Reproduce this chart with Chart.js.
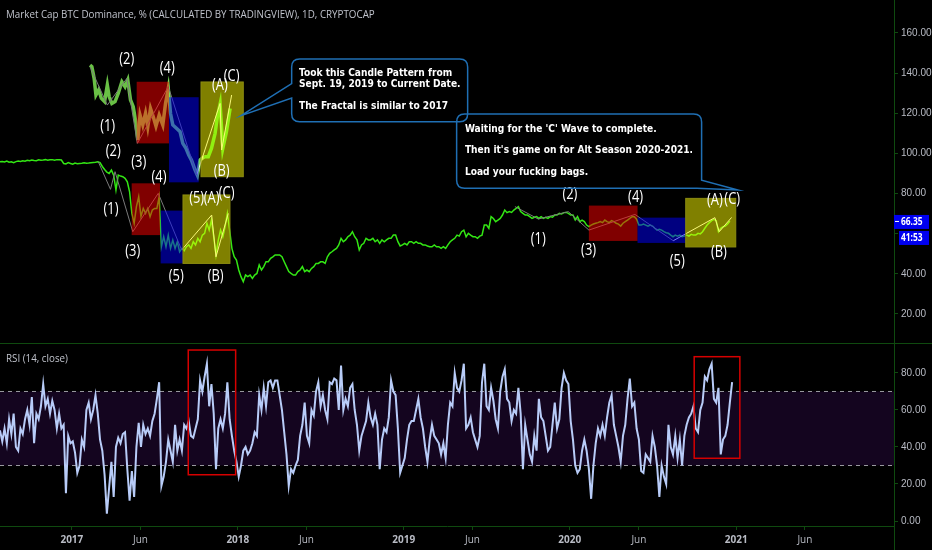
<!DOCTYPE html>
<html><head><meta charset="utf-8">
<style>html,body{margin:0;padding:0;background:#000;overflow:hidden}canvas{display:block}</style>
<script src="https://cdn.jsdelivr.net/npm/chart.js@4"></script>
</head><body><canvas id="c" width="932" height="550"></canvas>
<script>
// x axis unit: days from the left edge of the chart
const xTickDays=[158,309,523,674,888,1039,1253,1405,1619,1770];
const xTickLabels=['2017','Jun','2018','Jun','2019','Jun','2020','Jun','2021','Jun'];
const priceTicks=[160,140,120,100,80,60,40,20];
const rsiTicks=[80,60,40,20,0];
const sampleDays=5;
const mainValues=[95.9,96,95.7,96.2,95.6,95.8,95.4,95.9,96.2,96,96.3,96.1,96.6,96.4,96.7,96.5,96.4,96.8,96.6,96.7,96.9,96.6,96.8,96.9,96.6,96.9,96.8,96.7,
95,94.8,95.4,95,94.6,95.2,94.9,95,95.1,95.3,95.1,95.2,95.4,95.5,95.6,95.8,
95.4,93.5,92,90.7,90,91.7,89.2,81.8,89.2,88.7,88.4,87.6,85.9,80.9,70.1,65.2,73.5,78.4,68.5,72.6,70.1,72.6,68.5,71.8,72.6,72.6,78.4,
53.5,58.5,53.5,59.3,52.7,56.8,52.7,56,51,52.7,51.5,53.5,54.4,52.7,56,54.4,57.7,56,59.3,60.2,65.2,61.8,66.8,58.5,49.4,56.8,61.8,58.5,63.5,70.1,
61.8,52.7,48.5,46.9,41.9,38.6,36.1,39.4,38.6,39.4,37.7,39.4,40.2,44.4,41.9,43.6,46,46,47.7,48.5,49.4,49.4,49.4,48.5,46,43.6,41.1,40.2,39.4,39.4,41.1,41.9,43.6,41.1,41.9,41.1,42.7,43.6,45.2,45.2,46,46,45.2,48.5,50.2,51,51.9,52.7,54.4,57.7,56,56.9,58.5,59.3,61,58.5,56.9,51.9,54.4,55.2,57.7,56.9,56.9,57.7,56,56.9,55.2,56.9,56,56.9,57.7,57.7,59.3,59.3,56,53.9,54.4,55.2,54.4,56,56,55.2,56,55.2,55.2,54.4,54.4,53.9,53.5,53.5,54.4,53.5,53.5,52.7,53.5,52.7,54.4,56,56.9,57.7,59.3,58.8,61,61.8,58.5,60.2,59.3,58.5,58.5,57.7,58.8,
59.3,64.3,64.3,62.7,68.5,67.6,66,66.8,67.6,69.3,71.8,70.5,71,70.6,71.8,72.6,73.5,71,70.1,69.3,69.3,68.5,67.6,68.2,68.5,67.6,68.5,67.6,68.2,67.6,68.5,68.2,69.3,69.3,70.1,69.8,70.5,70.6,70.1,69.3,69.3,66.8,68.5,66,66.8,66,64.3,63.5,64.3,64.8,65.2,65.5,66,65.5,66.8,66,65.5,66.5,66,65.2,64.8,63.8,65.2,66,66.8,67.6,68.5,68.5,67.2,64.3,64.3,64.8,64.3,63.8,64.3,63.8,62.7,61.8,62.2,61.8,61,60.5,60.2,59.3,58.5,59.3,58.8,59.3,58.5,58.8,59.3,58.8,59.7,59.3,59.3,60.2,59.9,61,62.7,64.3,65.5,66.5,67.1,66.5,61,62.7,63.5,63.8,64.8,66.35];
const rsiValues=[49,43,50,42,55,47,58,40,38,50,47,55,60,52,67,42,58,55,62,74,62,66,58,65,60,50,58,50,52,15,46,42,43,37,26,30,44,40,60,64,55,60,68,58,44,38,25,4,18,32,13,40,45,42,47,48,28,11,27,13,40,53,40,52,47,50,46,54,58,66,75,19,24,32,44,38,32,52,38,44,38,52,50,54,46,45,50,55,76,70,78,85,62,74,58,28,50,55,50,58,75,55,46,38,32,24,30,38,40,36,38,42,48,46,68,60,72,62,75,76,72,76,76,68,60,48,36,19,28,26,30,33,46,52,64,46,42,60,57,70,75,62,68,60,55,75,74,77,76,60,84,60,66,62,72,74,60,52,38,46,50,54,64,56,52,58,52,28,44,50,48,56,76,70,68,50,26,30,34,44,52,54,54,60,66,56,50,40,32,44,52,46,44,42,36,42,34,52,64,62,80,72,70,76,85,50,52,56,48,44,40,46,
75,85,62,60,72,65,55,50,70,78,82,66,64,54,60,58,72,58,28,52,44,36,32,46,38,66,56,54,46,38,40,52,64,50,55,72,80,76,74,54,44,30,26,28,38,44,38,28,12,30,42,50,46,52,46,56,64,68,52,46,40,32,46,52,66,77,62,64,50,44,27,26,36,34,32,46,40,30,13,30,24,20,52,40,36,46,34,44,30,46,52,56,58,62,50,48,60,64,78,76,82,85,66,64,72,36,44,46,52,64,75];
const insetDays=[198,202,207,211,217,223,230,236,240,246,253,260,268,275,281,287,293,299,303,308,314,320,325,331,337,343,350,358,364,370,375,380,388,396,402,409,415,421,429,434,440,449,458,465,473,478,484,490,498,506];
const insetValues=[144,143.2,137.4,129.1,131.6,127.4,125.8,134.1,128.3,124.9,125.8,129.9,135.7,133.2,136.6,126.6,123.3,115,106.7,119.1,114.2,120,113.3,122.4,118.3,113.6,119.1,114.2,124.9,132.4,119.9,114.2,112.5,110.8,105,102.5,99.2,96.7,91.7,89.2,96.7,98.4,98.4,102.5,110,118.3,124.6,102.5,110.8,122.4];
const wave1GrayDays=[198,236,279,302,370,432.5], wave1GrayValues=[143.2,124.1,137.4,105,133.3,89.2];
const wave1WhiteDays=[432.5,484,487.4,509.4], wave1WhiteValues=[89.2,124.9,101.7,129.1];
const wave2GrayDays=[216,243,253,292,348,399.5], wave2GrayValues=[95.9,82.1,90.9,61,80.1,51.9];
const wave2WhiteDays=[399.5,465.5,475,502], wave2WhiteValues=[51.9,69.3,48.5,70.1];
const wave3GrayDays=[1132.4,1183.7,1249.7,1295.1,1396.3,1480.5], wave3GrayValues=[73.5,67.3,71,61.8,69.6,56.5];
const wave3WhiteDays=[1480.5,1572.1,1581.7,1608.8], wave3WhiteValues=[56.5,68,61,68.1];
const boxColors=['red','blue','yellow','red','blue','yellow','red','blue','yellow'];
const boxStart=[300.6,371.6,442,289.6,353.3,402.4,1295,1402,1508];
const boxEnd=[371.6,436.9,535,351.8,402.4,505.7,1402,1508,1618];
const boxTop=[135.7,128,135.6,85.1,71.5,79.3,74,68,77.6];
const boxBottom=[105,85.6,88.4,59.3,45.2,45.2,56.4,55.4,53.4];
const waveLabels=['(2)','(4)','(1)','(A)','(C)','(B)','(2)','(3)','(4)','(1)','(3)','(5)','(A)','(C)','(5)','(B)','(2)','(4)','(A)','(C)','(1)','(3)','(B)','(5)'];
const waveLabelDays=[278.6,367.9,236.8,483.7,509.5,487.5,249.1,305,349.6,244,291.8,432.5,465.5,498.5,387.7,474.3,1253.3,1397.8,1572.1,1610.2,1183.6,1294.4,1581,1489.2];
const waveLabelValues=[146.9,142.4,113.7,134.1,138.6,91.4,101.2,95.4,88.4,72.3,51.5,77.6,77.9,80.1,38.6,38.6,79.8,78.4,76.8,77.1,57.2,51.9,51,46.5];
const note1Lines=['Took this Candle Pattern from','Sept. 19, 2019 to Current Date.','The Fractal is similar to 2017'];
const note1Values=[139.9,134.4,123.6];
const note2Lines=["Waiting for the 'C' Wave to complete.","Then it's game on for Alt Season 2020-2021.",'Load your fucking bags.'];
const note2Values=[112.2,101.4,90.4];
const titleText='Market Cap BTC Dominance, % (CALCULATED BY TRADINGVIEW), 1D, CRYPTOCAP';
const rsiTitle='RSI (14, close)';
const lastPrice=66.35, countdown='41:53';
const rsiBoxStart=[414,1526.6], rsiBoxEnd=[518.2,1627], rsiBoxTop=[92.4,88.8], rsiBoxBottom=[25,33.9];
const xMax=1966, priceMin=5.54, priceMax=176.44, rsiMin=-2.7, rsiMax=96.2;

const SANS='"Open Sans",sans-serif';
const pts=(xs,ys)=>xs.map((x,i)=>({x,y:ys[i]}));
const sampled=v=>v.map((y,i)=>({x:i*sampleDays,y}));
const thin=(xs,ys,color)=>({data:pts(xs,ys),borderColor:color,borderWidth:1,yAxisID:'y',xAxisID:'x',pointRadius:0,tension:0,order:1});
const GREEN='#0f4a0f';
const fillBox={red:'rgba(255,0,0,.5)',blue:'rgba(0,0,255,.5)',yellow:'rgba(255,255,0,.5)'};
const squeezed=(ctx,text,x,y,sx)=>{ctx.save();ctx.translate(x,y);ctx.scale(sx,1);ctx.fillText(text,0,0);ctx.restore();};

const drawings={id:'drawings',
 afterDatasetsDraw(ch){
  const {ctx,scales:{x,y,rsi}}=ch, X=d=>x.getPixelForValue(d), Y=v=>y.getPixelForValue(v), R=v=>rsi.getPixelForValue(v);
  ctx.save();
  boxColors.forEach((c,i)=>{const l=X(boxStart[i]),r=X(boxEnd[i]),t=Y(boxTop[i]),b=Y(boxBottom[i]);
    ctx.fillStyle=fillBox[c];ctx.fillRect(l,t,r-l,b-t);
    if(c==='yellow'){ctx.strokeStyle='#8c8c10';ctx.lineWidth=1;ctx.strokeRect(l,t,r-l,b-t);}});
  ctx.strokeStyle='#d60000';ctx.lineWidth=1.5;
  rsiBoxStart.forEach((s,i)=>ctx.strokeRect(X(s),R(rsiBoxTop[i]),X(rsiBoxEnd[i])-X(s),R(rsiBoxBottom[i])-R(rsiBoxTop[i])));
  ctx.fillStyle='#fff';ctx.textAlign='center';ctx.textBaseline='middle';ctx.font='17px '+SANS;
  waveLabels.forEach((t,i)=>squeezed(ctx,t,X(waveLabelDays[i]),Y(waveLabelValues[i]),.76));
  ctx.strokeStyle='#1f6fb4';ctx.lineWidth=1.5;
  const round=(l,t,r,b,tail)=>{const rad=8;ctx.beginPath();ctx.moveTo(l+rad,t);ctx.lineTo(r-rad,t);ctx.quadraticCurveTo(r,t,r,t+rad);
    tail.right.forEach(p=>ctx.lineTo(p[0],p[1]));
    if(!tail.right.length){ctx.lineTo(r,b-rad);ctx.quadraticCurveTo(r,b,r-rad,b);}
    ctx.lineTo(l+rad,b);ctx.quadraticCurveTo(l,b,l,b-rad);
    tail.left.forEach(p=>ctx.lineTo(p[0],p[1]));
    ctx.lineTo(l,t+rad);ctx.quadraticCurveTo(l,t,l+rad,t);ctx.closePath();ctx.stroke();};
  {const l=X(641.4),r=X(1028.4),t=Y(147),b=Y(115.8);
   round(l,t,r,b,{right:[],left:[[l,Y(127.6)],[X(529.9),Y(118.8)],[l,Y(134.8)]]});}
  {const l=X(1004.2),r=X(1542.9),t=Y(119.6),b=Y(82.6);
   round(l,t,r,b,{right:[[r,Y(86.7)],[X(1622.7),Y(81.8)],[X(1532.6),b]],left:[]});}
  ctx.fillStyle='#fff';ctx.textAlign='left';ctx.font='bold 10.5px "DejaVu Sans",sans-serif';
  note1Lines.forEach((t,i)=>squeezed(ctx,t,X(657.4),Y(note1Values[i]),.866));
  note2Lines.forEach((t,i)=>squeezed(ctx,t,X(1022.4),Y(note2Values[i]),.866));
  ctx.fillStyle='#c0c3cc';ctx.font='11px '+SANS;
  squeezed(ctx,titleText,6,15,.89);
  squeezed(ctx,rsiTitle,6,359,.89);
  const e=x.right;
  ctx.strokeStyle=GREEN;ctx.lineWidth=1;
  ctx.beginPath();ctx.moveTo(0,rsi.top+.5);ctx.lineTo(ch.width,rsi.top+.5);
  ctx.moveTo(e+.5,0);ctx.lineTo(e+.5,ch.height);ctx.stroke();
  const py=Y(lastPrice);
  ctx.fillStyle='#0000f0';ctx.fillRect(e,py-6,35,14);ctx.fillRect(e+5,py+10,30,14);
  ctx.fillStyle='#fff';ctx.fillRect(e+1,py,4,1);
  ctx.font='bold 10.5px '+SANS;ctx.textAlign='left';
  squeezed(ctx,lastPrice.toFixed(2),e+7,py+1,.8);squeezed(ctx,countdown,e+7,py+17,.8);
  ctx.restore();
 }};
const noPad=s=>{s.paddingTop=0;s.paddingBottom=0;s.paddingLeft=0;s.paddingRight=0;};
const insetColor=c=>{const d=c.p0.parsed.x;return d>=boxStart[2]?'#22e020':d>=boxStart[0]?'#78e056':'#69c045';};

new Chart(document.getElementById('c'),{type:'line',plugins:[drawings],
 data:{datasets:[
  {data:[{x:0,y:70},{x:xMax,y:70}],borderColor:'#9a9aa0',borderWidth:1,borderDash:[4,4],backgroundColor:'#14051f',fill:'+1',yAxisID:'rsi',xAxisID:'x',pointRadius:0,order:6},
  {data:[{x:0,y:30},{x:xMax,y:30}],borderColor:'#9a9aa0',borderWidth:1,borderDash:[4,4],fill:false,yAxisID:'rsi',xAxisID:'x',pointRadius:0,order:5},
  {data:sampled(rsiValues),borderColor:'#b8ccf8',borderWidth:2,yAxisID:'rsi',xAxisID:'x',pointRadius:0,tension:0,order:4},
  {data:sampled(mainValues),borderColor:'#33e614',borderWidth:1.5,yAxisID:'y',xAxisID:'x',pointRadius:0,tension:0,order:3},
  {data:pts(insetDays,insetValues),borderColor:'#69c045',segment:{borderColor:insetColor},borderWidth:3.5,yAxisID:'y',xAxisID:'x',pointRadius:0,tension:0,order:2},
  thin(wave1GrayDays,wave1GrayValues,'#7a7a7a'),thin(wave1WhiteDays,wave1WhiteValues,'#f2f2f2'),
  thin(wave2GrayDays,wave2GrayValues,'#7a7a7a'),thin(wave2WhiteDays,wave2WhiteValues,'#f2f2f2'),
  thin(wave3GrayDays,wave3GrayValues,'#7a7a7a'),thin(wave3WhiteDays,wave3WhiteValues,'#f2f2f2')
 ]},
 options:{responsive:false,animation:false,devicePixelRatio:1,
  layout:{padding:0},
  plugins:{legend:{display:false},tooltip:{enabled:false},title:{display:false}},
  scales:{
   x:{type:'linear',min:0,max:xMax,position:'bottom',
     grid:{drawOnChartArea:false,drawTicks:true,color:GREEN,tickLength:4},border:{color:GREEN},
     afterBuildTicks:s=>{s.ticks=xTickDays.map(value=>({value}));},
     afterFit:s=>{s.height=24;noPad(s);},
     ticks:{autoSkip:false,maxRotation:0,color:'#b8bbc4',padding:4,
       font:c=>({family:SANS,size:10,weight:c.index%2===0?'bold':'normal'}),
       callback:(v,i)=>xTickLabels[i]}},
   y:{type:'linear',position:'right',stack:'panes',stackWeight:343,min:priceMin,max:priceMax,
     grid:{drawOnChartArea:false,drawTicks:true,color:GREEN,tickLength:4},border:{color:GREEN},
     afterBuildTicks:s=>{s.ticks=priceTicks.map(value=>({value}));},
     afterFit:s=>{s.width=38;noPad(s);},
     ticks:{color:'#b8bbc4',padding:3,font:{family:'"Liberation Sans",sans-serif',size:10},callback:v=>v===60?'':v.toFixed(2)}},
   rsi:{type:'linear',position:'right',stack:'panes',stackWeight:183,min:rsiMin,max:rsiMax,
     grid:{drawOnChartArea:false,drawTicks:true,color:GREEN,tickLength:4},border:{color:GREEN},
     afterBuildTicks:s=>{s.ticks=rsiTicks.map(value=>({value}));},
     afterFit:s=>{s.width=38;noPad(s);},
     ticks:{color:'#b8bbc4',padding:3,font:{family:'"Liberation Sans",sans-serif',size:10},callback:v=>v.toFixed(2)}}
  }}});
</script></body></html>
